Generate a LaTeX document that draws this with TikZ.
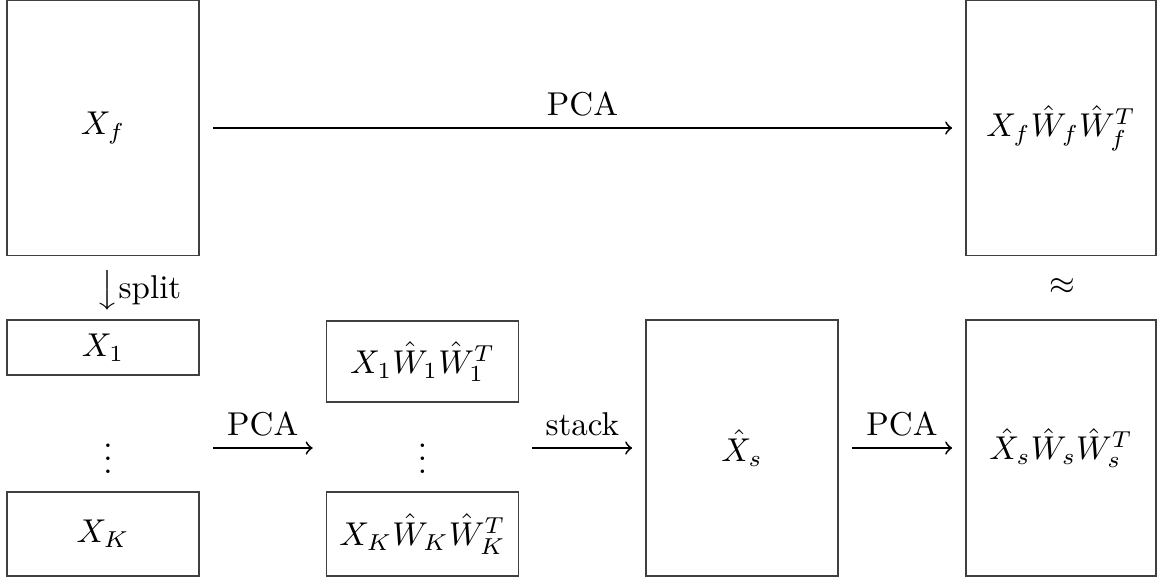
\documentclass[tikz,border=0pt]{standalone}
\usetikzlibrary{calc}
\newlength\px
\setlength\px{0.303pt}
\begin{document}
\begin{tikzpicture}[
  x=\px, y=-\px,
  mat/.style={draw=black!75, line width=0.5pt, rectangle, inner sep=0pt, minimum width=#1},
  mat/.default=192*\px,
  arr/.style={->, line width=0.55pt, shorten <=13*\px, shorten >=13*\px},
  lab/.style={above, midway, inner sep=3.3pt}
]
\useasboundingbox (0,0) rectangle (1157,583);

% full data matrix and its PCA reconstruction
\node[mat, minimum height=255*\px] (xf)  at (103,128) {$X_f$};
\node[mat=190*\px, minimum height=255*\px] (xfw) at (1061,128) {$X_f\hat{W}_f\hat{W}_f^T$};

% split blocks
\node[mat, minimum height=55*\px] (x1) at (103,347.5) {$X_1$};
\node (d1) at (108,449) {$\vdots$};
\node[mat, minimum height=84*\px] (xk) at (103,534) {$X_K$};

% blockwise reconstructions
\node[mat, minimum height=81*\px] (m1) at (422.5,361.5) {$X_1\hat{W}_1\hat{W}_1^T$};
\node (d2) at (422.5,449) {$\vdots$};
\node[mat, minimum height=84*\px] (mk) at (422.5,534) {$X_K\hat{W}_K\hat{W}_K^T$};

% stacked matrix and its reconstruction
\node[mat, minimum height=256*\px] (xs)  at (742,448) {$\hat{X}_s$};
\node[mat=190*\px, minimum height=256*\px] (xsw) at (1061,448) {$\hat{X}_s\hat{W}_s\hat{W}_s^T$};

% annotations between rows
\node (split) at (139,290) {$\big\downarrow$split};
\node (apx) at (1062,287) {$\approx$};

% arrows
\draw[arr] (xf.east) -- (xfw.west) node[lab] {PCA};
\draw[arr] (x1.east |- xs.center) -- (m1.west |- xs.center) node[lab] {PCA};
\draw[arr] (m1.east |- xs.center) -- (xs.west) node[lab] {stack};
\draw[arr] (xs.east) -- (xsw.west) node[lab] {PCA};
\end{tikzpicture}
\end{document}
